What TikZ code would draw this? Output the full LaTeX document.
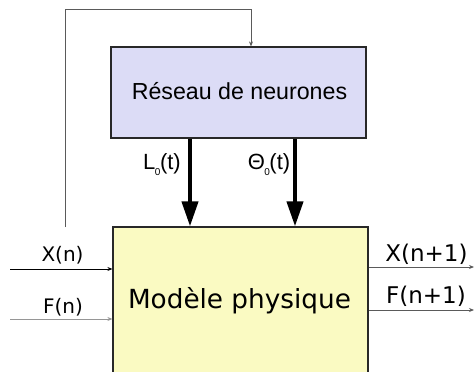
\documentclass[tikz,border=0pt]{standalone}
\usepackage{fontspec}
\setmainfont{DejaVu Sans}
\newfontfamily\arialfont{Liberation Sans}
\usetikzlibrary{arrows.meta}

\definecolor{netfill}{RGB}{220,220,246}
\definecolor{modelfill}{RGB}{250,250,194}
\definecolor{edgegray}{RGB}{40,40,40}
\definecolor{lightwire}{RGB}{150,150,150}
\definecolor{midwire}{RGB}{90,90,90}

\newcommand{\subz}{\kern-0.5pt\raisebox{-0.3em}{\fontsize{10}{10}\selectfont 0}\kern-0.5pt}

\begin{document}
\begin{tikzpicture}[x=1pt,y=-1pt,
  netbox/.style={draw=edgegray, line width=1.2pt, fill=netfill, inner sep=0pt,
    minimum width=255pt, minimum height=91pt},
  modelbox/.style={draw=edgegray, line width=1.2pt, fill=modelfill, inner sep=0pt,
    minimum width=255pt, minimum height=193pt},
  wire/.style={line width=0.9pt, -{Stealth[length=5pt,width=4pt]}},
  bigarrow/.style={line width=4pt, -{Triangle[length=25pt,width=16pt]}},
  boxtext/.style={anchor=base, inner sep=0pt},
  siglabel/.style={anchor=base, inner sep=0pt, font=\fontsize{20}{20}\selectfont},
  outlabel/.style={anchor=base, inner sep=0pt, font=\fontsize{23}{23}\selectfont},
  paramlabel/.style={anchor=base, inner sep=0pt, font=\arialfont\fontsize{22}{22}\selectfont}]

\useasboundingbox (0,0) rectangle (475,372);
\clip (0,0) rectangle (475,372);

% the two blocks
\node[netbox] (net) at (238.5,92.5) {};
\node[modelbox] (model) at (240.5,323.5) {};

\node[boxtext, font=\arialfont\fontsize{23.2}{23.2}\selectfont] (nettext) at (239.5,99.3) {Réseau de neurones};
\node[boxtext, font=\fontsize{26.3}{26.3}\selectfont] (modeltext) at (239.5,308.3) {Modèle physique};

% parameters passed from the network to the model
\coordinate (lx) at (190,0);
\coordinate (tx) at (295,0);
\draw[bigarrow] (lx |- net.south) -- (lx |- model.north);
\draw[bigarrow] (tx |- net.south) -- (tx |- model.north);
\node[paramlabel] (llab) at (162,169.3) {L\subz(t)};
\node[paramlabel] (tlab) at (269,169.3) {Θ\subz(t)};

% feedback loop into the network
\coordinate (fbfoot) at (65,227);
\coordinate (fbtop) at (65,9);
\coordinate (fbx) at (251,9);
\draw[wire, draw=midwire] (fbfoot) -- (fbtop) -- (fbx) -- (fbx |- net.north);

% model inputs
\coordinate (xin) at (10,269);
\coordinate (fin) at (10,319);
\draw[wire, draw=black] (xin) -- (xin -| model.west);
\draw[wire, draw=lightwire] (fin) -- (fin -| model.west);
\node[siglabel] (xinlab) at (62.5,261.6) {X(n)};
\node[siglabel] (finlab) at (63,313) {F(n)};

% model outputs
\coordinate (xout) at (474,267);
\coordinate (fout) at (474,310);
\draw[wire, draw=midwire] (xout -| model.east) -- (xout);
\draw[wire, draw=midwire] (fout -| model.east) -- (fout);
\node[outlabel] (xoutlab) at (426.5,261.7) {X(n+1)};
\node[outlabel] (foutlab) at (426,303.3) {F(n+1)};
\end{tikzpicture}
\end{document}
